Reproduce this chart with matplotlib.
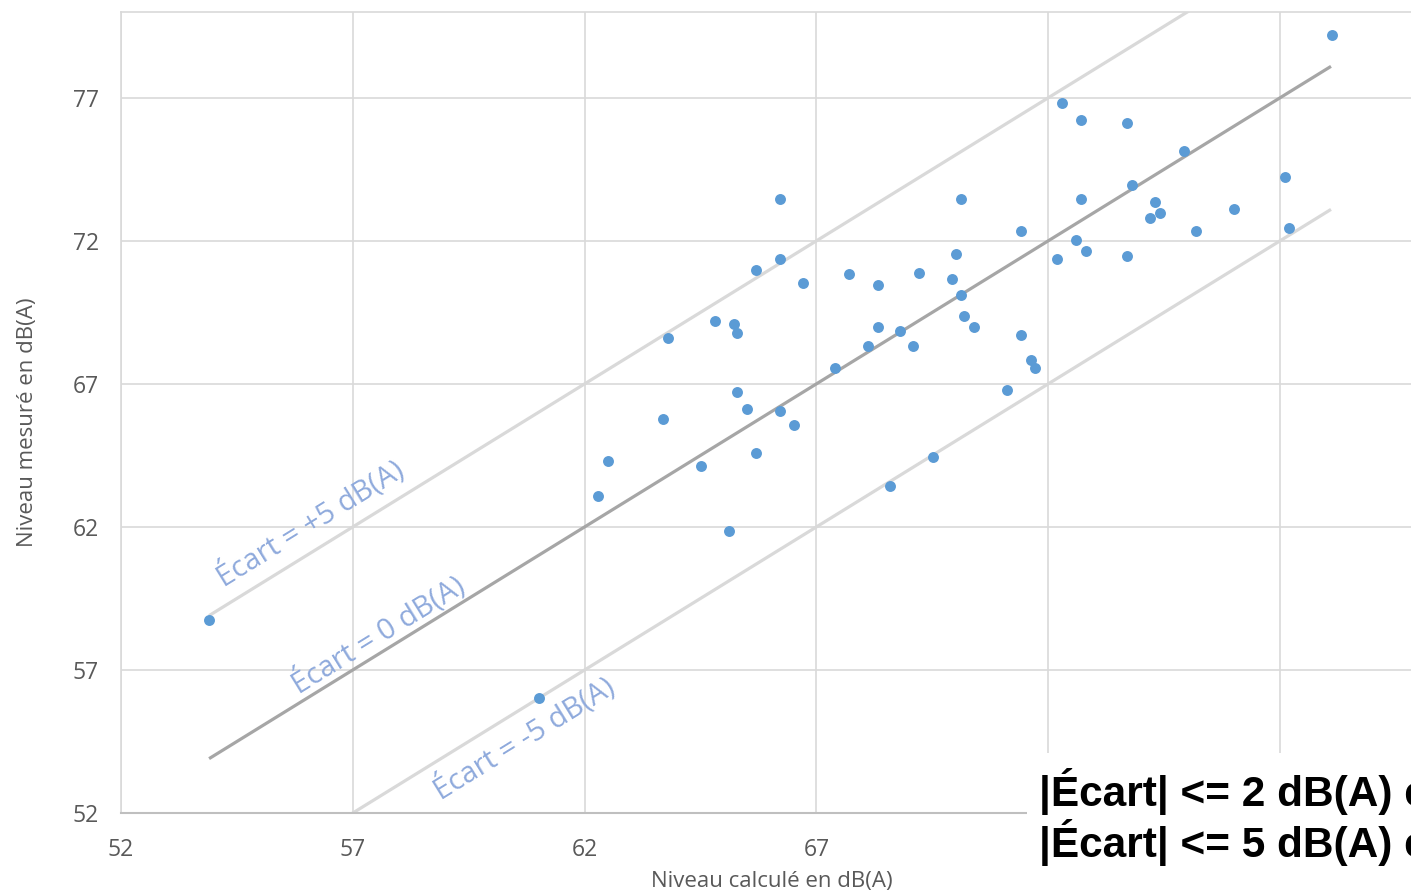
# -*- coding: utf-8 -*-
import matplotlib
matplotlib.use('Agg')
import matplotlib.pyplot as plt
from matplotlib.patches import Rectangle

niveau_calcule = [53.90, 61.02, 62.29, 62.50, 63.69, 63.80, 64.51, 64.81, 65.11, 65.22,
                  65.29, 65.29, 65.50, 65.70, 65.70, 66.21, 66.21, 66.21, 66.52, 66.71,
                  67.40, 67.70, 68.11, 68.33, 68.33, 68.59, 68.80, 69.08, 69.21, 69.52,
                  69.92, 70.01, 70.12, 70.12, 70.18, 70.40, 71.11, 71.41, 71.41, 71.63,
                  71.72, 72.19, 72.30, 72.60, 72.71, 72.71, 72.82, 73.70, 73.70, 73.81,
                  74.20, 74.30, 74.41, 74.93, 75.19, 76.01, 77.11, 77.19, 78.12]
niveau_mesure = [58.74, 56.02, 63.07, 64.29, 65.76, 68.62, 64.12, 69.21, 61.85, 69.11,
                 68.79, 66.70, 66.11, 70.99, 64.60, 73.47, 71.38, 66.04, 65.55, 70.51,
                 67.54, 70.85, 68.34, 70.44, 69.00, 63.42, 68.86, 68.31, 70.89, 64.43,
                 70.68, 71.55, 73.47, 70.12, 69.39, 69.00, 66.80, 72.36, 68.72, 67.82,
                 67.57, 71.38, 76.83, 72.04, 76.23, 73.47, 71.66, 76.13, 71.48, 73.96,
                 72.81, 73.37, 72.98, 75.15, 72.36, 73.12, 74.24, 72.46, 79.20]

ecarts = [5, 0, -5]
ecart_labels = ['Écart = +5 dB(A)', 'Écart = 0 dB(A)', 'Écart = -5 dB(A)']
ecart_colors = ['#d9d9d9', '#a6a6a6', '#d9d9d9']
ligne_x = [53.9, 78.1]
ticks = [52, 57, 62, 67, 72, 77]
# les deux dernières étiquettes x sont cachées par la zone de texte
xtick_labels = ['52', '57', '62', '67', '', '']

texte_bilan = ['|Écart| <= 2 dB(A) en', '|Écart| <= 5 dB(A) en']

plt.rcParams['font.family'] = ['Open Sans', 'DejaVu Sans']

fig = plt.figure(figsize=(14.11, 8.96), dpi=100)
ax = fig.add_axes([121 / 1411, 1 - 813 / 896, 1290 / 1411, 801 / 896])

for e, c in zip(ecarts, ecart_colors):
    ax.plot(ligne_x, [x + e for x in ligne_x], color=c, lw=2.3, solid_capstyle='butt', zorder=2)

ax.scatter(niveau_calcule, niveau_mesure, s=62, color='#5b9bd5', linewidths=0, zorder=3)

# étiquettes le long des droites (point de départ de la ligne de base)
label_pos = [(54.22, 59.89), (55.84, 56.16), (58.90, 52.45)]
for (lx, ly), txt in zip(label_pos, ecart_labels):
    ax.text(lx, ly, txt, rotation=45, transform_rotates_text=True, rotation_mode='anchor',
            ha='left', va='baseline', color='#8faadc', fontsize=21, zorder=4)

ax.set_xlim(52, 52 + 1290 / 46.36)
ax.set_ylim(52, 80)
ax.set_xticks(ticks)
ax.set_xticklabels(xtick_labels)
ax.set_yticks(ticks)
ax.grid(color='#d9d9d9', lw=1.2)
ax.set_axisbelow(True)
ax.tick_params(length=0, labelsize=16.5, colors='#595959')
ax.tick_params(axis='y', pad=16)
ax.tick_params(axis='x', pad=18)

for side in ['left', 'top']:
    ax.spines[side].set_color('#d9d9d9')
    ax.spines[side].set_linewidth(1.2)
ax.spines['bottom'].set_color('#bfbfbf')
ax.spines['bottom'].set_linewidth(1.5)
ax.spines['right'].set_visible(False)

ax.set_xlabel('Niveau calculé en dB(A)', fontsize=16, color='#595959')
ax.set_ylabel('Niveau mesuré en dB(A)', fontsize=16, color='#595959')
ax.xaxis.set_label_coords((772 - 121) / 1290, -0.073)
ax.yaxis.set_label_coords((38 - 121) / 1290, (813 - 422) / 801)

# zone de texte blanche en bas à droite
fig.add_artist(Rectangle((1027 / 1411, 0), 1 - 1027 / 1411, 143 / 896,
                         transform=fig.transFigure, facecolor='white', edgecolor='none', zorder=5))
for i, txt in enumerate(texte_bilan):
    fig.text(1039 / 1411, 1 - (806 + 51 * i) / 896, txt, family=['Liberation Sans', 'DejaVu Sans'],
             fontweight='bold', fontsize=30.5, color='black', va='baseline', ha='left', zorder=6)

plt.savefig('out.png', dpi=100)
